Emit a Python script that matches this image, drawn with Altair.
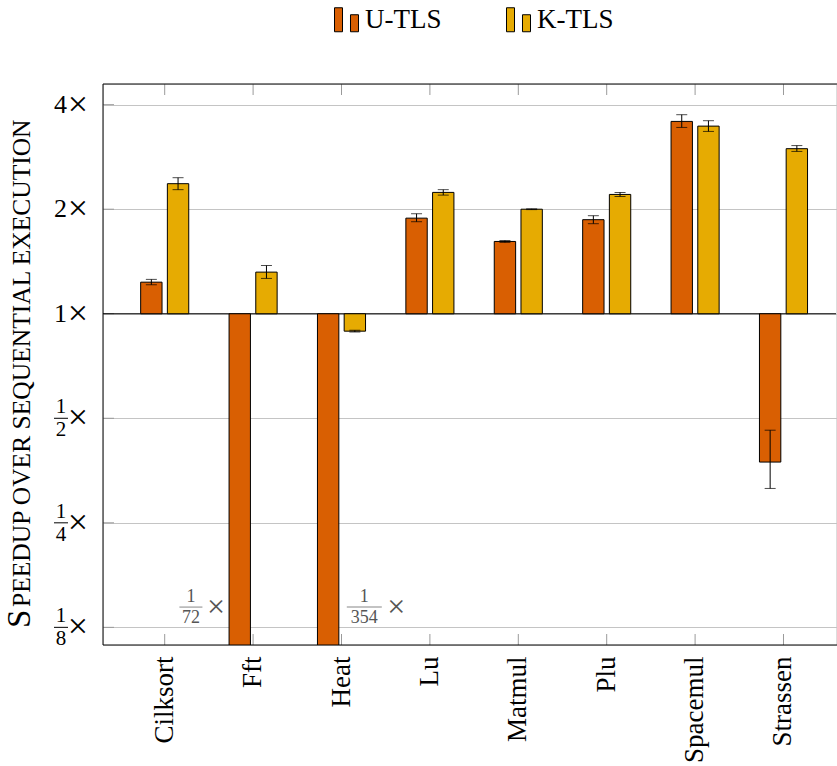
import altair as alt
import pandas as pd

# Benchmarks and the two thread-local-storage variants
categories = ["Cilksort", "Fft", "Heat", "Lu", "Matmul", "Plu", "Spacemul", "Strassen"]
series_names = ["U-TLS", "K-TLS"]
series_colors = ["#D95F02", "#E6AB02"]

# Speedup over sequential execution (with error-bar bounds)
u_speedup = [1.233, 1 / 72, 1 / 354, 1.885, 1.615, 1.866, 3.58, 0.374]
u_low = [1.212, None, None, 1.841, 1.605, 1.817, 3.44, 0.314]
u_high = [1.256, None, None, 1.941, 1.625, 1.916, 3.743, 0.462]

k_speedup = [2.369, 1.318, 0.891, 2.236, 2.0, 2.206, 3.47, 2.988]
k_low = [2.277, 1.264, 0.886, 2.196, 1.995, 2.177, 3.35, 2.934]
k_high = [2.465, 1.377, 0.896, 2.277, 2.005, 2.236, 3.597, 3.05]

# Y axis ticks (powers of two)
y_ticks = [0.125, 0.25, 0.5, 1, 2, 4]
frac_ticks = [0.5, 0.25, 0.125]
whole_ticks = [1, 2, 4]

FONT = "Liberation Serif"
W, H = 733, 561

rows = []
for i, bench in enumerate(categories):
    rows.append(dict(bench=bench, series="U-TLS", speedup=u_speedup[i],
                     lo=u_low[i], hi=u_high[i], base=1.0))
    rows.append(dict(bench=bench, series="K-TLS", speedup=k_speedup[i],
                     lo=k_low[i], hi=k_high[i], base=1.0))
df = pd.DataFrame(rows)
err_df = df.dropna(subset=["lo"])

# Bars that run off the bottom get their value written as a fraction
# (offsets are measured from the left edge of the benchmark's band)
off_chart = df[(df.series == "U-TLS") & (df.speedup < 0.11)].copy()
off_chart["den"] = (1 / off_chart["speedup"]).round().astype(int).astype(str)
off_chart["num"] = "1"
off_chart["yv"] = 0.143
off_chart["frac_off"] = [-18, 67]
off_chart["times_off"] = [7, 99]
off_chart["bar_w"] = [23, 35]

tick_df = pd.DataFrame({"yv": y_ticks})
whole_df = pd.DataFrame({"yv": whole_ticks, "lab": [str(v) for v in whole_ticks]})
frac_df = pd.DataFrame({"yv": frac_ticks,
                        "den": [str(int(round(1 / v))) for v in frac_ticks],
                        "num": ["1"] * len(frac_ticks)})
cat_df = pd.DataFrame({"bench": categories})
one = pd.DataFrame({"k": [0]})

x_axis = alt.Axis(title=None, labelAngle=-90, labelFont=FONT, labelFontSize=27,
                  labelColor="black", labelPadding=11, ticks=False, domain=False,
                  grid=False)
x_scale = alt.Scale(domain=categories, range=[0, 742.2],
                    paddingInner=0, paddingOuter=0.198)
y_axis = alt.Axis(title=None, values=y_ticks, labels=False, ticks=False,
                  domain=False, grid=True, gridColor="#c4c4c4", gridWidth=1)
y_scale = alt.Scale(type="log", base=2, domain=[0.1112, 4.588], nice=False)

X = lambda: alt.X("bench:N", scale=x_scale, axis=x_axis, sort=categories)
XOFF = lambda: alt.XOffset("series:N", sort=series_names,
                           scale=alt.Scale(domain=series_names,
                                           paddingInner=0.2, paddingOuter=0.755))
Y = lambda f: alt.Y(f, scale=y_scale, axis=y_axis)

legend = alt.Legend(orient="none", legendX=230, legendY=-78, direction="horizontal",
                    title=None, padding=0,
                    symbolType="M-1,-1H-0.333V1H-1Z M0.333,-0.417H1V1H0.333Z",
                    symbolSize=576, symbolStrokeColor="black", symbolStrokeWidth=1,
                    symbolOpacity=1, labelFont=FONT, labelFontSize=27,
                    labelColor="black", labelOffset=5, columnPadding=62)

bars = alt.Chart(df).mark_bar(stroke="black", strokeWidth=1, clip=True).encode(
    x=X(), xOffset=XOFF(), y=Y("speedup:Q"), y2="base:Q",
    color=alt.Color("series:N", sort=series_names,
                    scale=alt.Scale(domain=series_names, range=series_colors),
                    legend=legend),
)

err = alt.Chart(err_df).mark_rule(color="black", strokeWidth=1).encode(
    x=X(), xOffset=XOFF(), y=Y("lo:Q"), y2="hi:Q")
cap_lo = alt.Chart(err_df).mark_tick(color="black", size=11, thickness=1,
                                     orient="horizontal").encode(
    x=X(), xOffset=XOFF(), y=Y("lo:Q"))
cap_hi = alt.Chart(err_df).mark_tick(color="black", size=11, thickness=1,
                                     orient="horizontal").encode(
    x=X(), xOffset=XOFF(), y=Y("hi:Q"))

baseline = alt.Chart(one).mark_rule(color="black", strokeWidth=1).encode(
    y=alt.datum(1, scale=y_scale))

# inward category ticks on the top and bottom edges
tick_top = alt.Chart(cat_df).mark_rule(color="#9a9a9a").encode(
    x=X(), y=alt.value(0), y2=alt.value(11))
tick_bot = alt.Chart(cat_df).mark_rule(color="#9a9a9a").encode(
    x=X(), y=alt.value(H - 11), y2=alt.value(H))
# inward value ticks on the left edge
tick_left = alt.Chart(tick_df).mark_rule(color="#9a9a9a").encode(
    x=alt.value(0), x2=alt.value(11), y=Y("yv:Q"))

# y tick labels: whole multiples, stacked fractions and the "×" sign
whole_lab = alt.Chart(whole_df).mark_text(font=FONT, fontSize=26, align="right",
                                          color="black").encode(
    x=alt.value(-36), y=Y("yv:Q"), text="lab:N")
times_lab = alt.Chart(tick_df).mark_text(font=FONT, fontSize=36,
                                         color="black").encode(
    x=alt.value(-25), y=Y("yv:Q"), text=alt.value("×"))
frac_num = alt.Chart(frac_df).mark_text(font=FONT, fontSize=21, dy=-11,
                                        color="black").encode(
    x=alt.value(-42), y=Y("yv:Q"), text="num:N")
frac_den = alt.Chart(frac_df).mark_text(font=FONT, fontSize=21, dy=12,
                                        color="black").encode(
    x=alt.value(-42), y=Y("yv:Q"), text="den:N")
frac_bar = alt.Chart(frac_df).mark_rule(color="black", strokeWidth=1).encode(
    x=alt.value(-49), x2=alt.value(-35), y=Y("yv:Q"))

# value notes for the bars that leave the plot
GRAY = "#555555"
ann_num = alt.Chart(off_chart).mark_text(font=FONT, fontSize=18, dy=-10,
                                         color=GRAY).encode(
    x=X(), xOffset=alt.XOffset("frac_off:Q", scale=None), y=Y("yv:Q"), text="num:N")
ann_den = alt.Chart(off_chart).mark_text(font=FONT, fontSize=18, dy=11,
                                         color=GRAY).encode(
    x=X(), xOffset=alt.XOffset("frac_off:Q", scale=None), y=Y("yv:Q"), text="den:N")
ann_bar = alt.Chart(off_chart).mark_tick(color=GRAY, thickness=1,
                                         orient="horizontal").encode(
    x=X(), xOffset=alt.XOffset("frac_off:Q", scale=None), y=Y("yv:Q"),
    size=alt.Size("bar_w:Q", scale=None))
ann_times = alt.Chart(off_chart).mark_text(font=FONT, fontSize=32,
                                           color=GRAY).encode(
    x=X(), xOffset=alt.XOffset("times_off:Q", scale=None), y=Y("yv:Q"),
    text=alt.value("×"))

# y title set in small capitals
title_s = alt.Chart(one).mark_text(font=FONT, fontSize=33, angle=270,
                                   align="left", baseline="alphabetic",
                                   color="black").encode(
    x=alt.value(-73), y=alt.value(544), text=alt.value("S"))
title_rest = alt.Chart(one).mark_text(font=FONT, fontSize=25.5, angle=270,
                                      align="left", baseline="alphabetic",
                                      color="black").encode(
    x=alt.value(-73), y=alt.value(523),
    text=alt.value("PEEDUP OVER SEQUENTIAL EXECUTION"))

# plot frame (right edge lies past the visible area)
frame_top = alt.Chart(one).mark_rule(color="black").encode(
    x=alt.value(0), x2=alt.value(760), y=alt.value(0))
frame_bot = alt.Chart(one).mark_rule(color="black").encode(
    x=alt.value(0), x2=alt.value(760), y=alt.value(H))
frame_left = alt.Chart(one).mark_rule(color="black").encode(
    x=alt.value(0), y=alt.value(0), y2=alt.value(H))

chart = alt.layer(
    tick_top, tick_bot, tick_left, baseline, bars, err, cap_lo, cap_hi,
    whole_lab, times_lab, frac_num, frac_den, frac_bar,
    ann_num, ann_den, ann_bar, ann_times,
    title_s, title_rest, frame_top, frame_bot, frame_left,
).properties(
    width=W, height=H,
    autosize=alt.AutoSizeParams(type="none"),
    padding={"left": 103, "top": 84, "right": 1, "bottom": 121},
).configure_view(stroke=None).configure(font=FONT, background="white")

chart.save("out.html", embed_options={"renderer": "svg", "actions": False})
